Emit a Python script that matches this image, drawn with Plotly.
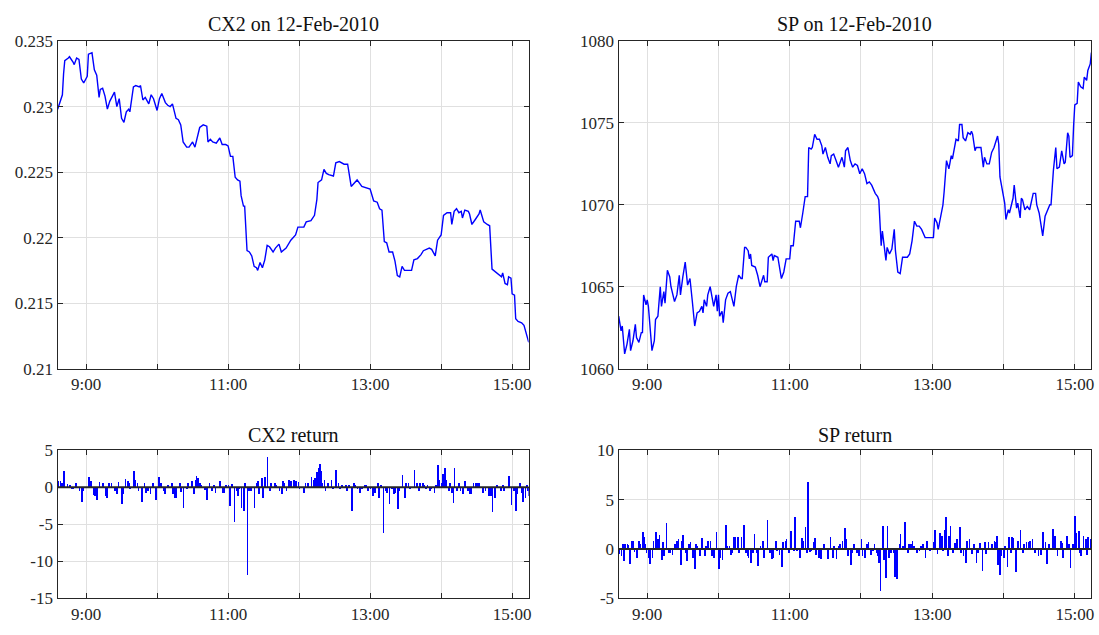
import pandas as pd
import plotly.graph_objects as go

DAY = "2010-02-12 "

# ---- CX2 price ----
cx2_time = [
    "08:36", "08:38", "08:40", "08:41", "08:42", "08:45", "08:46", "08:49", "08:50", "08:52",
    "08:54", "08:56", "08:58", "09:01", "09:02", "09:05", "09:07", "09:09", "09:11", "09:12",
    "09:14", "09:16", "09:18", "09:20", "09:22", "09:24", "09:26", "09:28", "09:30", "09:32",
    "09:34", "09:36", "09:37", "09:40", "09:42", "09:45", "09:46", "09:48", "09:50", "09:53",
    "09:55", "09:57", "10:00", "10:02", "10:04", "10:07", "10:09", "10:11", "10:13", "10:16",
    "10:18", "10:20", "10:22", "10:25", "10:27", "10:30", "10:32", "10:34", "10:36", "10:39",
    "10:42", "10:43", "10:45", "10:47", "10:50", "10:53", "10:55", "10:58", "11:00", "11:02",
    "11:04", "11:06", "11:08", "11:10", "11:11", "11:13", "11:14", "11:16", "11:18", "11:20",
    "11:22", "11:24", "11:25", "11:27", "11:29", "11:31", "11:33", "11:35", "11:38", "11:40",
    "11:43", "11:45", "11:49", "11:53", "11:57", "11:59", "12:04", "12:06", "12:10", "12:13",
    "12:15", "12:16", "12:19", "12:21", "12:23", "12:25", "12:29", "12:31", "12:34", "12:38",
    "12:41", "12:44", "12:46", "12:49", "12:53", "12:56", "13:00", "13:03", "13:06", "13:08",
    "13:10", "13:12", "13:14", "13:16", "13:19", "13:21", "13:23", "13:25", "13:27", "13:29",
    "13:31", "13:35", "13:37", "13:40", "13:43", "13:45", "13:50", "13:52", "13:55", "13:57",
    "14:00", "14:01", "14:02", "14:05", "14:08", "14:09", "14:11", "14:13", "14:15", "14:17",
    "14:18", "14:20", "14:23", "14:24", "14:26", "14:29", "14:32", "14:33", "14:36", "14:39",
    "14:41", "14:43", "14:46", "14:49", "14:51", "14:52", "14:54", "14:56", "14:57", "14:59",
    "15:00", "15:02", "15:03", "15:05", "15:08", "15:10", "15:12", "15:14",
]
cx2_price = [
    0.2298, 0.2304, 0.2309, 0.2325, 0.2335, 0.2337, 0.2338, 0.2334, 0.2332, 0.2337,
    0.2336, 0.2321, 0.2318, 0.2323, 0.2340, 0.2341, 0.2328, 0.2324, 0.2307, 0.2313,
    0.2314, 0.2308, 0.2298, 0.2304, 0.2308, 0.2311, 0.2300, 0.2306, 0.2291, 0.2288,
    0.2296, 0.2298, 0.2296, 0.2315, 0.2316, 0.2315, 0.2316, 0.2305, 0.2307, 0.2302,
    0.2309, 0.2306, 0.2297, 0.2306, 0.2310, 0.2303, 0.2301, 0.2300, 0.2302, 0.2291,
    0.2290, 0.2286, 0.2273, 0.2269, 0.2269, 0.2273, 0.2269, 0.2277, 0.2284, 0.2286,
    0.2285, 0.2273, 0.2275, 0.2273, 0.2272, 0.2276, 0.2271, 0.2271, 0.2270, 0.2262,
    0.2262, 0.2246, 0.2244, 0.2243, 0.2232, 0.2224, 0.2224, 0.2190, 0.2189, 0.2186,
    0.2178, 0.2177, 0.2175, 0.2181, 0.2177, 0.2183, 0.2194, 0.2193, 0.2189, 0.2192,
    0.2195, 0.2189, 0.2192, 0.2198, 0.2202, 0.2208, 0.2208, 0.2212, 0.2213, 0.2217,
    0.2229, 0.2242, 0.2244, 0.2252, 0.2249, 0.2248, 0.2247, 0.2257, 0.2258, 0.2256,
    0.2256, 0.2239, 0.2241, 0.2244, 0.2239, 0.2238, 0.2237, 0.2228, 0.2227, 0.2222,
    0.2221, 0.2197, 0.2196, 0.2189, 0.2189, 0.2182, 0.2171, 0.2170, 0.2178, 0.2175,
    0.2175, 0.2175, 0.2183, 0.2184, 0.2187, 0.2190, 0.2192, 0.2191, 0.2186, 0.2198,
    0.2202, 0.2209, 0.2217, 0.2219, 0.2219, 0.2210, 0.2220, 0.2222, 0.2219, 0.2220,
    0.2215, 0.2221, 0.2220, 0.2218, 0.2210, 0.2214, 0.2218, 0.2221, 0.2212, 0.2210,
    0.2209, 0.2176, 0.2174, 0.2172, 0.2170, 0.2173, 0.2165, 0.2164, 0.2170, 0.2169,
    0.2157, 0.2156, 0.2138, 0.2136, 0.2135, 0.2133, 0.2127, 0.2120,
]

# ---- SP price ----
sp_time = [
    "08:36", "08:37", "08:38", "08:39", "08:41", "08:43", "08:45", "08:46", "08:48", "08:50",
    "08:51", "08:53", "08:55", "08:56", "08:57", "08:59", "09:00", "09:01", "09:03", "09:04",
    "09:06", "09:07", "09:09", "09:11", "09:12", "09:14", "09:15", "09:17", "09:19", "09:20",
    "09:23", "09:25", "09:27", "09:28", "09:30", "09:32", "09:34", "09:36", "09:38", "09:40",
    "09:42", "09:44", "09:46", "09:47", "09:48", "09:50", "09:51", "09:53", "09:55", "09:56",
    "09:58", "09:59", "10:00", "10:01", "10:03", "10:04", "10:06", "10:08", "10:10", "10:12",
    "10:13", "10:15", "10:17", "10:19", "10:20", "10:22", "10:23", "10:25", "10:26", "10:27",
    "10:28", "10:31", "10:33", "10:35", "10:37", "10:38", "10:39", "10:41", "10:42", "10:45",
    "10:46", "10:47", "10:50", "10:53", "10:55", "10:57", "11:00", "11:01", "11:03", "11:05",
    "11:08", "11:09", "11:11", "11:13", "11:15", "11:16", "11:18", "11:19", "11:21", "11:23",
    "11:25", "11:27", "11:28", "11:30", "11:32", "11:34", "11:35", "11:37", "11:39", "11:41",
    "11:44", "11:46", "11:47", "11:49", "11:51", "11:53", "11:55", "11:57", "11:59", "12:01",
    "12:03", "12:05", "12:07", "12:09", "12:12", "12:14", "12:15", "12:16", "12:17", "12:18",
    "12:19", "12:21", "12:22", "12:24", "12:26", "12:28", "12:29", "12:31", "12:33", "12:35",
    "12:39", "12:41", "12:43", "12:45", "12:47", "12:49", "12:51", "12:53", "12:54", "12:56",
    "13:01", "13:02", "13:04", "13:05", "13:07", "13:09", "13:10", "13:12", "13:14", "13:16",
    "13:17", "13:20", "13:22", "13:23", "13:25", "13:26", "13:28", "13:30", "13:32", "13:33",
    "13:34", "13:36", "13:37", "13:41", "13:43", "13:44", "13:46", "13:48", "13:50", "13:52",
    "13:55", "13:56", "13:57", "13:58", "14:00", "14:01", "14:02", "14:04", "14:05", "14:07",
    "14:08", "14:09", "14:11", "14:12", "14:14", "14:15", "14:16", "14:18", "14:20", "14:22",
    "14:25", "14:27", "14:28", "14:30", "14:32", "14:33", "14:35", "14:37", "14:39", "14:40",
    "14:42", "14:44", "14:45", "14:47", "14:49", "14:51", "14:52", "14:54", "14:55", "14:56",
    "14:58", "14:59", "15:00", "15:02", "15:03", "15:05", "15:07", "15:08", "15:10", "15:11",
    "15:13", "15:14",
]
sp_price = [
    1063.2, 1062.8, 1062.3, 1062.6, 1060.9, 1061.5, 1062.4, 1061.1, 1061.7, 1062.7,
    1061.9, 1061.6, 1062.2, 1062.2, 1064.5, 1063.9, 1064.2, 1063.8, 1062.1, 1061.1,
    1061.7, 1063.0, 1063.2, 1065.0, 1063.8, 1064.7, 1064.0, 1066.0, 1065.6, 1065.0,
    1064.1, 1064.5, 1065.7, 1064.5, 1065.6, 1066.5, 1065.1, 1065.5, 1064.1, 1062.6,
    1063.4, 1063.5, 1063.8, 1063.4, 1064.2, 1063.8, 1064.5, 1065.0, 1064.2, 1063.8,
    1064.5, 1063.5, 1064.5, 1063.2, 1063.5, 1062.8, 1064.2, 1064.6, 1064.7, 1064.2,
    1063.8, 1065.0, 1065.7, 1065.5, 1065.5, 1067.4, 1067.4, 1067.2, 1066.7, 1067.0,
    1066.3, 1066.2, 1065.7, 1065.0, 1065.4, 1065.7, 1065.3, 1065.3, 1066.8, 1067.0,
    1066.6, 1066.9, 1066.8, 1065.5, 1065.9, 1066.7, 1066.7, 1067.5, 1067.5, 1069.0,
    1069.0, 1068.6, 1069.5, 1070.5, 1070.5, 1073.5, 1073.4, 1073.5, 1074.3, 1074.0,
    1074.0, 1073.6, 1073.1, 1073.5, 1072.9, 1072.5, 1073.0, 1073.1, 1072.7, 1072.3,
    1072.9, 1072.3, 1073.3, 1073.5, 1072.7, 1072.3, 1072.5, 1072.4, 1071.9, 1072.2,
    1071.9, 1071.3, 1071.4, 1071.2, 1070.7, 1070.5, 1070.3, 1068.5, 1067.5, 1068.4,
    1067.8, 1066.6, 1067.4, 1067.0, 1067.3, 1068.5, 1067.2, 1065.9, 1065.8, 1066.8,
    1066.8, 1067.0, 1067.8, 1069.0, 1068.7, 1068.7, 1068.5, 1068.2, 1068.0, 1068.0,
    1068.0, 1069.2, 1068.9, 1068.5, 1069.3, 1070.0, 1070.8, 1072.7, 1072.2, 1073.0,
    1072.8, 1074.0, 1073.9, 1074.9, 1074.9, 1074.1, 1073.9, 1074.4, 1074.3, 1074.5,
    1074.3, 1073.3, 1073.5, 1073.5, 1072.3, 1072.9, 1072.5, 1072.5, 1073.2, 1073.5,
    1074.2, 1073.7, 1071.7, 1071.3, 1070.7, 1070.1, 1069.1, 1069.7, 1069.5, 1070.2,
    1070.4, 1071.2, 1069.8, 1070.1, 1069.2, 1070.4, 1070.3, 1069.7, 1069.9, 1069.7,
    1070.7, 1070.7, 1070.0, 1069.5, 1068.7, 1068.1, 1069.3, 1069.7, 1070.0, 1070.0,
    1072.1, 1073.5, 1072.2, 1072.3, 1073.3, 1072.5, 1072.6, 1074.4, 1074.2, 1072.9,
    1073.0, 1074.8, 1076.1, 1076.2, 1077.5, 1077.2, 1077.1, 1077.8, 1077.6, 1078.2,
    1078.6, 1079.3,
]

# ---- CX2 return (bp) ----
cx2_ret_time = [
    "08:36", "08:38", "08:39", "08:41", "08:44", "08:46", "08:48", "08:49", "08:51", "08:54",
    "08:56", "08:57", "09:02", "09:04", "09:06", "09:07", "09:09", "09:11", "09:14", "09:16",
    "09:17", "09:19", "09:21", "09:24", "09:26", "09:27", "09:30", "09:31", "09:33", "09:35",
    "09:36", "09:37", "09:40", "09:41", "09:43", "09:44", "09:47", "09:49", "09:50", "09:52",
    "09:54", "09:56", "09:59", "10:01", "10:03", "10:05", "10:06", "10:09", "10:12", "10:13",
    "10:15", "10:16", "10:19", "10:20", "10:22", "10:25", "10:26", "10:29", "10:31", "10:32",
    "10:33", "10:34", "10:36", "10:37", "10:40", "10:42", "10:44", "10:46", "10:48", "10:49",
    "10:53", "10:55", "10:56", "10:58", "11:00", "11:01", "11:03", "11:05", "11:07", "11:08",
    "11:09", "11:11", "11:13", "11:14", "11:16", "11:17", "11:19", "11:22", "11:24", "11:25",
    "11:26", "11:28", "11:29", "11:31", "11:33", "11:35", "11:36", "11:39", "11:40", "11:43",
    "11:45", "11:46", "11:47", "11:49", "11:51", "11:53", "11:55", "11:57", "11:59", "12:00",
    "12:04", "12:05", "12:07", "12:10", "12:12", "12:13", "12:15", "12:16", "12:17", "12:18",
    "12:19", "12:21", "12:22", "12:24", "12:27", "12:28", "12:31", "12:33", "12:34", "12:36",
    "12:39", "12:40", "12:42", "12:44", "12:46", "12:47", "12:49", "12:51", "12:53", "12:55",
    "12:56", "12:58", "13:00", "13:02", "13:04", "13:06", "13:07", "13:09", "13:11", "13:13",
    "13:14", "13:16", "13:18", "13:20", "13:21", "13:23", "13:24", "13:27", "13:29", "13:30",
    "13:32", "13:33", "13:37", "13:39", "13:41", "13:42", "13:44", "13:45", "13:47", "13:48",
    "13:50", "13:51", "13:54", "13:55", "13:57", "13:58", "14:00", "14:01", "14:03", "14:04",
    "14:06", "14:07", "14:09", "14:10", "14:11", "14:13", "14:15", "14:16", "14:18", "14:20",
    "14:22", "14:24", "14:25", "14:27", "14:29", "14:31", "14:32", "14:35", "14:37", "14:40",
    "14:42", "14:43", "14:45", "14:47", "14:50", "14:52", "14:53", "14:57", "14:59", "15:01",
    "15:03", "15:04", "15:06", "15:08", "15:09", "15:11", "15:12", "15:13", "15:14",
]
cx2_ret = [
    0.8, 0.8, 0.5, 2.1, 0.4, 0.3, -0.3, -0.3, 0.6, -0.5,
    -2.0, -0.6, 1.3, 0.8, -1.1, -1.2, -1.8, 0.7, 0.6, -1.2,
    -1.5, 0.6, 0.6, -0.5, -1.0, 0.7, -2.3, -1.0, 1.1, 0.8,
    0.5, -0.3, 2.1, 1.0, 0.5, -0.5, -2.0, 0.6, -0.8, -0.5,
    -1.0, 0.5, -1.8, 1.4, 0.6, -0.6, -1.0, 0.3, 0.5, -1.0,
    -1.5, -1.5, 0.5, -0.7, -2.9, -0.3, 0.5, 0.8, -1.0, 1.0,
    1.5, 1.2, 0.6, 0.3, -0.4, -1.7, 0.5, -0.6, 0.3, -0.8,
    0.8, -0.8, -0.8, 0.3, 0.3, -2.6, 0.4, -4.7, -0.5, -1.2,
    -0.3, -2.9, -3.2, 0.5, -11.85, -0.5, -0.5, -2.9, 0.5, 0.8,
    -1.0, 1.2, -1.5, 1.3, 4.1, -0.5, 0.5, 0.5, 0.3, -0.5,
    -1.0, 0.8, 0.5, -0.5, 1.0, 0.8, 1.0, 0.8, 0.7, -0.3,
    -0.8, 0.5, 0.6, 1.3, 1.0, 1.2, 2.0, 2.5, 3.1, 2.2,
    0.5, 1.0, -0.6, 0.5, 1.0, -0.3, 2.3, 0.5, -0.3, 0.3,
    0.3, -0.5, 0.3, -3.3, 0.5, 0.3, -0.3, -0.8, -0.3, 0.3,
    0.3, -0.5, -0.3, -1.2, -0.8, 0.5, -1.5, 0.3, -6.3, -0.5,
    -0.8, -2.3, -0.3, -1.0, -0.8, -3.0, -0.5, 1.6, -1.5, 0.5,
    0.5, -0.3, 2.3, 0.5, -0.5, 0.5, 0.5, 0.3, -0.3, 0.3,
    -0.5, -0.3, -0.8, 0.3, 3.0, 1.0, 0.5, 1.8, 2.5, 1.0,
    -0.5, 0.5, -0.8, -2.2, 2.5, -0.5, 0.5, -0.5, -1.0, 0.8,
    -0.5, -1.0, -1.0, 0.6, 0.6, 0.5, 0.5, -0.8, -0.5, -1.2,
    -1.2, -3.4, -1.5, 0.3, -0.5, 0.3, -0.5, 1.5, -2.5, -0.5,
    -3.3, -1.0, 0.5, -0.8, -2.0, -1.5, 0.3, -0.5, -1.2,
]

# ---- SP return (bp) ----
sp_ret_time = [
    "08:36", "08:38", "08:39", "08:40", "08:41", "08:43", "08:44", "08:45", "08:47", "08:48",
    "08:49", "08:51", "08:53", "08:54", "08:56", "08:57", "08:58", "08:59", "09:01", "09:02",
    "09:04", "09:05", "09:07", "09:09", "09:10", "09:12", "09:13", "09:14", "09:16", "09:18",
    "09:19", "09:21", "09:23", "09:25", "09:26", "09:28", "09:29", "09:30", "09:32", "09:33",
    "09:35", "09:36", "09:38", "09:40", "09:41", "09:42", "09:44", "09:46", "09:48", "09:49",
    "09:51", "09:53", "09:54", "09:56", "09:58", "10:00", "10:01", "10:03", "10:06", "10:07",
    "10:09", "10:10", "10:11", "10:13", "10:14", "10:16", "10:17", "10:19", "10:21", "10:23",
    "10:24", "10:25", "10:27", "10:29", "10:30", "10:32", "10:33", "10:35", "10:37", "10:38",
    "10:41", "10:43", "10:45", "10:46", "10:48", "10:49", "10:51", "10:53", "10:54", "10:56",
    "10:57", "10:59", "11:01", "11:03", "11:04", "11:06", "11:08", "11:10", "11:11", "11:13",
    "11:14", "11:15", "11:17", "11:18", "11:20", "11:21", "11:22", "11:24", "11:26", "11:28",
    "11:29", "11:32", "11:34", "11:36", "11:37", "11:39", "11:41", "11:42", "11:44", "11:46",
    "11:47", "11:49", "11:51", "11:52", "11:54", "11:56", "11:58", "12:00", "12:01", "12:03",
    "12:05", "12:06", "12:08", "12:10", "12:11", "12:13", "12:14", "12:15", "12:16", "12:18",
    "12:19", "12:21", "12:22", "12:23", "12:25", "12:27", "12:28", "12:30", "12:32", "12:33",
    "12:35", "12:37", "12:39", "12:40", "12:42", "12:43", "12:44", "12:47", "12:49", "12:50",
    "12:52", "12:54", "12:55", "12:58", "13:01", "13:02", "13:04", "13:06", "13:07", "13:08",
    "13:09", "13:10", "13:11", "13:13", "13:14", "13:15", "13:17", "13:19", "13:20", "13:21",
    "13:23", "13:24", "13:26", "13:28", "13:29", "13:31", "13:33", "13:35", "13:37", "13:38",
    "13:40", "13:42", "13:44", "13:45", "13:47", "13:50", "13:52", "13:53", "13:54", "13:55",
    "13:57", "13:58", "14:00", "14:01", "14:03", "14:04", "14:06", "14:07", "14:08", "14:10",
    "14:12", "14:14", "14:16", "14:17", "14:19", "14:21", "14:22", "14:24", "14:26", "14:29",
    "14:31", "14:33", "14:35", "14:36", "14:38", "14:41", "14:43", "14:45", "14:48", "14:49",
    "14:50", "14:53", "14:55", "14:56", "14:58", "15:00", "15:01", "15:03", "15:04", "15:05",
    "15:07", "15:09", "15:10", "15:11", "15:13", "15:14",
]
sp_ret = [
    -0.6, -0.8, 0.5, -1.3, 0.5, 0.5, 0.4, -1.6, 0.8, 0.8,
    -0.4, -1.0, 0.8, 0.5, 1.7, 1.2, 0.5, -0.5, -1.0, -1.6,
    -1.0, 0.8, 1.7, 1.0, 1.4, -1.2, 0.7, -0.8, 2.6, -0.5,
    -0.5, -0.7, 0.5, 0.8, 1.0, -1.7, 0.8, 1.4, -0.5, -1.3,
    0.5, 0.7, -1.0, -2.1, 0.5, 0.3, -0.8, 1.1, -0.8, 0.3,
    0.8, 0.8, -0.8, -1.0, 1.7, -2.1, -1.0, -1.2, 2.4, 0.3,
    0.3, -0.7, -0.5, 1.2, 1.2, 1.2, -0.5, 1.2, 2.4, -0.5,
    -0.8, -1.0, -1.5, -0.5, 1.5, -0.5, -1.8, 0.3, 0.8, -1.0,
    2.9, -0.5, -1.1, -1.0, 0.8, -0.3, -0.7, -1.9, 0.7, 0.8,
    1.0, -0.5, 1.8, -0.3, 3.2, -0.3, -1.0, 1.1, 0.8, 2.2,
    -0.5, 6.8, -0.4, -0.3, 0.7, 1.1, -0.7, -1.0, -1.1, 0.5,
    0.5, -1.1, 1.2, -1.0, 0.3, -1.1, 0.3, 0.5, 0.8, 2.1,
    1.0, -0.8, -1.7, -0.5, 0.5, -0.5, -0.8, 1.0, -0.8, -1.0,
    0.5, 0.7, -0.7, -0.3, 0.5, -0.5, -0.8, -1.5, -4.3, 2.3,
    -1.2, -3.0, 2.3, -1.0, -0.5, -0.5, -2.9, -3.1, 0.5, 1.5,
    0.3, 2.7, -0.5, 0.5, 0.5, 0.8, 0.3, -0.5, -0.3, 0.3,
    0.5, -1.0, 0.8, -0.3, 0.7, 1.9, -0.6, 1.6, 1.3, 1.3,
    -0.3, 1.9, 3.2, -0.8, 1.3, 2.3, -0.5, 0.6, 1.0, 1.0,
    2.2, -0.5, -0.8, -1.5, 0.8, 1.0, -0.6, 0.5, -1.5, -0.5,
    0.6, -2.3, 0.7, -0.6, 0.7, 0.5, 0.8, 0.7, 1.3, -1.7,
    -2.7, -0.8, -1.0, 0.3, -1.9, 1.2, -0.5, 1.2, 1.1, -2.4,
    0.8, 1.9, -0.5, 0.5, 0.7, 0.7, 0.8, 1.0, -0.5, -0.8,
    -0.7, 1.7, 0.7, -1.6, 0.5, 2.0, 1.3, -0.8, 0.8, 0.6,
    -1.0, 1.3, 0.5, -2.0, 0.5, 3.3, 1.6, 1.8, -0.5, -0.8,
    1.3, 1.0, -0.7, 1.2, 1.0, 0.5,
]

# ---- axis ticks ----
hour_ticks = ["09:00", "10:00", "11:00", "12:00", "13:00", "14:00", "15:00"]
hour_labels = ["9:00", "", "11:00", "", "13:00", "", "15:00"]
cx2_price_ticks = [0.21, 0.215, 0.22, 0.225, 0.23, 0.235]
cx2_price_labels = ["0.21", "0.215", "0.22", "0.225", "0.23", "0.235"]
sp_price_ticks = [1060, 1065, 1070, 1075, 1080]
cx2_ret_ticks = [-15, -10, -5, 0, 5]
sp_ret_ticks = [-5, 0, 5, 10]


def stamp(times):
    return pd.to_datetime([DAY + t for t in times])


BLUE = "#0000ff"
INK = "#262626"
GRID = "#e0e0e0"
FONT = "Liberation Serif"
X_RANGE = [DAY + "08:35:54", DAY + "15:13:54"]
BAR_MS = 38000

fig = go.Figure()
fig.add_trace(go.Scatter(x=stamp(cx2_time), y=cx2_price, mode="lines",
                         line=dict(color=BLUE, width=1.4), xaxis="x", yaxis="y"))
fig.add_trace(go.Scatter(x=stamp(sp_time), y=sp_price, mode="lines",
                         line=dict(color=BLUE, width=1.4), xaxis="x2", yaxis="y2"))
fig.add_trace(go.Bar(x=stamp(cx2_ret_time), y=cx2_ret, width=BAR_MS,
                     marker=dict(color=BLUE, line=dict(width=0)), xaxis="x3", yaxis="y3"))
fig.add_trace(go.Bar(x=stamp(sp_ret_time), y=sp_ret, width=BAR_MS,
                     marker=dict(color=BLUE, line=dict(width=0)), xaxis="x4", yaxis="y4"))

col_left = [0.0525, 0.4823]
col_right = [0.5644, 0.9957]
row_top = [0.4162, 0.9480]
row_bottom = [0.0436, 0.2835]

tick_font = dict(family=FONT, size=17, color=INK)


def xaxis(domain, anchor):
    return dict(
        domain=domain, anchor=anchor, type="date", range=X_RANGE,
        tickmode="array", tickvals=[DAY + h for h in hour_ticks], ticktext=hour_labels,
        ticks="inside", ticklen=5, tickcolor=INK, tickwidth=1,
        showline=True, linecolor=INK, linewidth=1.2, mirror="ticks",
        showgrid=True, gridcolor=GRID, gridwidth=1, zeroline=False,
        tickfont=tick_font,
    )


def yaxis(domain, anchor, rng, vals, labels):
    return dict(
        domain=domain, anchor=anchor, range=rng,
        tickmode="array", tickvals=vals, ticktext=labels,
        ticks="inside", ticklen=5, tickcolor=INK, tickwidth=1,
        showline=True, linecolor=INK, linewidth=1.2, mirror="ticks",
        showgrid=True, gridcolor=GRID, gridwidth=1, zeroline=False,
        tickfont=tick_font,
    )


fig.update_layout(
    width=1099, height=635,
    margin=dict(l=0, r=0, t=0, b=0),
    paper_bgcolor="white", plot_bgcolor="white",
    showlegend=False, bargap=0,
    xaxis=xaxis(col_left, "y"),
    yaxis=yaxis(row_top, "x", [0.21, 0.235], cx2_price_ticks, cx2_price_labels),
    xaxis2=xaxis(col_right, "y2"),
    yaxis2=yaxis(row_top, "x2", [1060, 1080], sp_price_ticks, [str(v) for v in sp_price_ticks]),
    xaxis3=xaxis(col_left, "y3"),
    yaxis3=yaxis(row_bottom, "x3", [-15, 5], cx2_ret_ticks, [str(v) for v in cx2_ret_ticks]),
    xaxis4=xaxis(col_right, "y4"),
    yaxis4=yaxis(row_bottom, "x4", [-5, 10], sp_ret_ticks, [str(v) for v in sp_ret_ticks]),
)

# bar baselines drawn over the bars
for xa, ya in (("x3", "y3"), ("x4", "y4")):
    fig.add_shape(type="line", xref=f"{xa} domain", yref=ya, x0=0, x1=1, y0=0, y1=0,
                  line=dict(color=INK, width=2), layer="above")

titles = [
    ("CX2 on 12-Feb-2010", col_left, 0.975),
    ("SP on 12-Feb-2010", col_right, 0.975),
    ("CX2 return", col_left, 0.3087),
    ("SP return", col_right, 0.3087),
]
for text, dom, ypos in titles:
    fig.add_annotation(text=text, xref="paper", yref="paper",
                       x=(dom[0] + dom[1]) / 2, y=ypos, xanchor="center", yanchor="middle",
                       showarrow=False, font=dict(family=FONT, size=20, color="#111111"))

fig.write_html("out.html")
